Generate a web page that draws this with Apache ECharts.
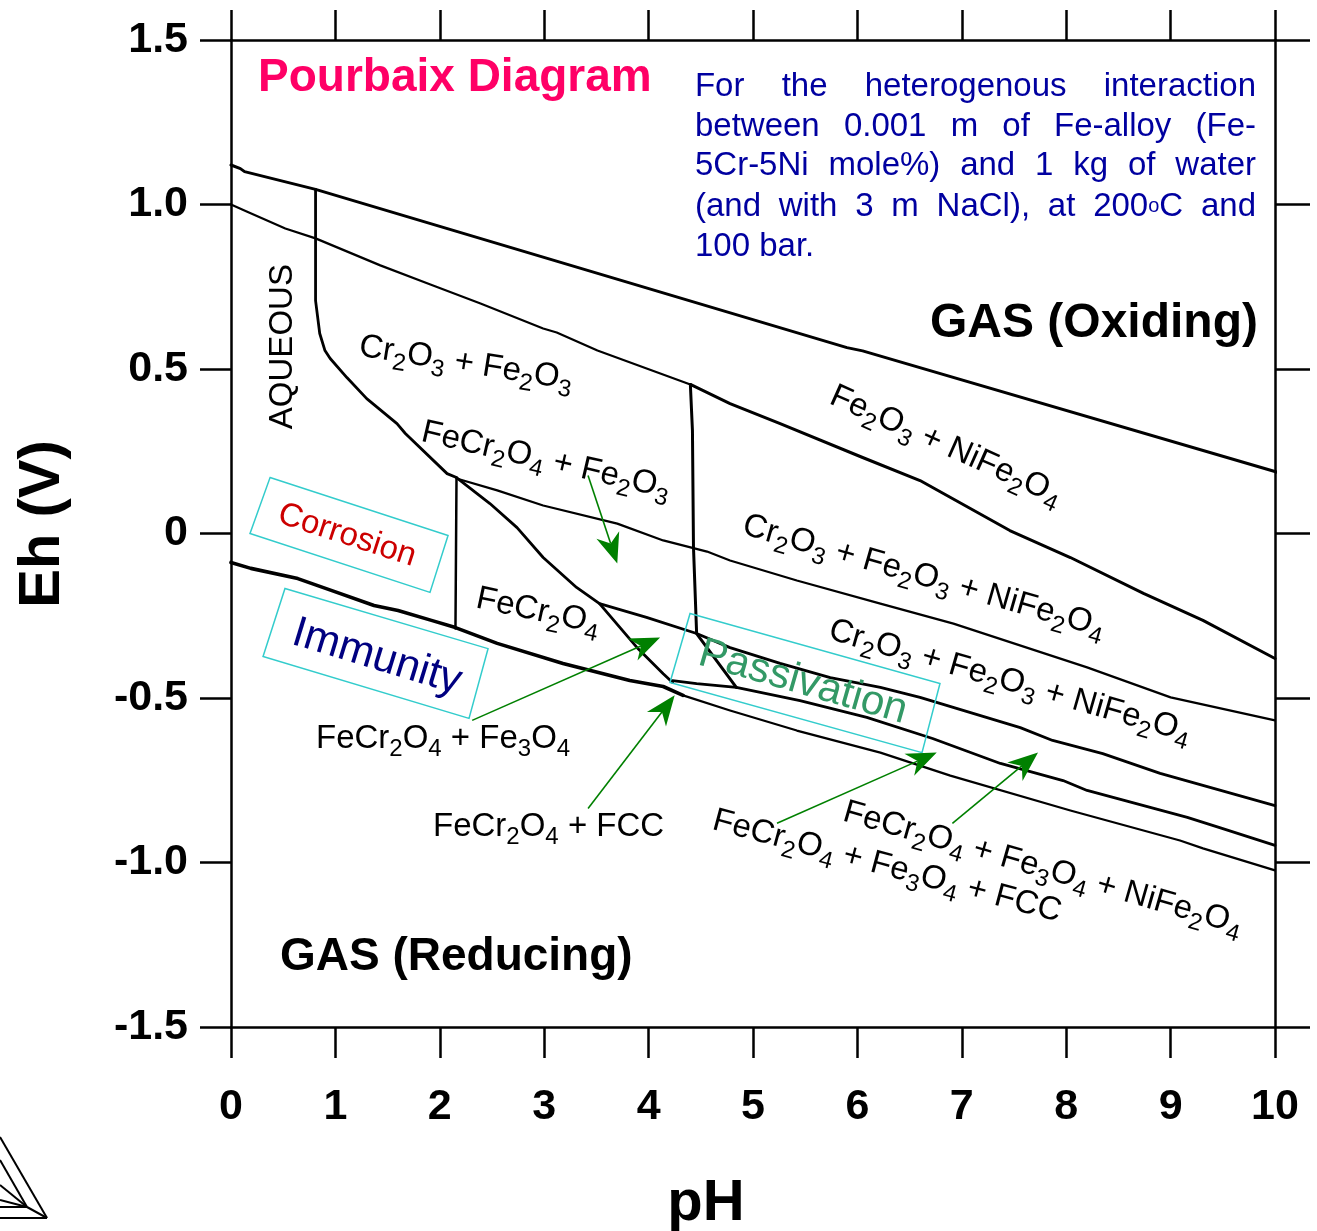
<!DOCTYPE html>
<html>
<head>
<meta charset="utf-8">
<script src="https://cdn.jsdelivr.net/npm/echarts@6/dist/echarts.min.js"></script>
<style>
  html, body { margin: 0; padding: 0; background: #fff; }
  #chart { width: 1317px; height: 1231px; }
</style>
</head>
<body>
<div id="chart"></div>
<script>
const FONT = '"Liberation Sans", Arial, Helvetica, sans-serif';

// ---- phase boundaries, points given as [pH, Eh (V)] ----
const upperWaterLimit = [[0, 1.12], [0.09, 1.109], [0.13, 1.10], [0.81, 1.046], [5.90, 0.565], [6.05, 0.555], [10.1, 0.179]];
const hematiteLimitAcid = [[0, 1.0], [0.15, 0.979], [0.52, 0.927], [0.81, 0.897], [1.43, 0.815], [1.91, 0.757], [2.39, 0.699], [2.99, 0.623], [3.12, 0.611], [3.51, 0.556], [4.40, 0.453]];
const hematiteLimitBasic = [[4.40, 0.453], [4.78, 0.395], [5.26, 0.334], [6.05, 0.231], [6.60, 0.161], [7.46, 0.009], [8.04, -0.073], [8.74, -0.182], [9.31, -0.264], [10.0, -0.380]];
const aqueousLimit = [[0.81, 1.046], [0.81, 0.708], [0.85, 0.608], [0.90, 0.556], [0.95, 0.532], [1.11, 0.474], [1.30, 0.410], [1.59, 0.334], [1.67, 0.304], [2.07, 0.182], [2.16, 0.170], [2.48, 0.091], [2.74, 0.018], [2.99, -0.073], [3.31, -0.164], [3.53, -0.213], [3.89, -0.347], [4.14, -0.426], [4.23, -0.453]];
const chromiteStep = [[2.16, 0.170], [2.15, -0.289]];
const nickelStep = [[4.40, 0.453], [4.42, 0.313], [4.43, -0.043], [4.46, -0.304], [4.84, -0.468]];
const hematiteChromiteLimit = [[2.16, 0.167], [2.55, 0.131], [2.99, 0.085], [3.70, 0.030], [4.14, -0.021], [4.56, -0.055], [4.78, -0.082], [5.42, -0.143], [6.22, -0.213], [6.92, -0.274], [8.20, -0.407], [9.00, -0.498], [10.0, -0.568]];
const magnetiteLimit = [[3.53, -0.213], [3.98, -0.255], [4.46, -0.304], [4.78, -0.347], [5.26, -0.395], [5.74, -0.438], [6.22, -0.468], [6.60, -0.498], [7.56, -0.590], [7.87, -0.629], [8.35, -0.669], [8.90, -0.729], [10.0, -0.827]];
const fccLimit = [[4.23, -0.447], [4.46, -0.456], [4.84, -0.468], [5.45, -0.508], [6.09, -0.559], [6.72, -0.623], [7.37, -0.699], [7.97, -0.751], [8.20, -0.781], [9.16, -0.863], [9.47, -0.894], [10.0, -0.948]];
const lowerWaterLimitAcid = [[0, -0.088], [0.19, -0.106], [0.64, -0.137], [0.96, -0.173], [1.37, -0.219], [1.60, -0.234], [1.92, -0.264], [2.15, -0.286], [2.55, -0.334], [3.18, -0.395], [3.82, -0.447], [4.14, -0.465], [4.33, -0.492]];
const lowerWaterLimitBasic = [[4.33, -0.492], [4.78, -0.538], [5.42, -0.599], [6.22, -0.666], [6.89, -0.736], [8.04, -0.842], [9.09, -0.933], [9.31, -0.957], [10.0, -1.024]];

// ---- axis scales ----
const pHRange = [0, 10];
const pHStep = 1;
const EhRange = [-1.5, 1.5];
const EhStep = 0.5;

// ---- annotations (positions in pH / Eh units, angles in degrees) ----
const titleText = 'Pourbaix Diagram';
const noteLines = [
  'For the heterogenous interaction',
  'between 0.001 m of Fe-alloy (Fe-',
  '5Cr-5Ni mole%) and 1 kg of water',
  '(and with 3 m NaCl), at 200°C and',
  '100 bar.'
];
const speciesLabels = [
  { text: 'Cr2O3 + Fe2O3', at: [2.251, 0.517], angle: 9 },
  { text: 'FeCr2O4 + Fe2O3', at: [3.017, 0.222], angle: 13 },
  { text: 'Fe2O3 + NiFe2O4', at: [6.849, 0.267], angle: 24 },
  { text: 'Cr2O3 + Fe2O3 + NiFe2O4', at: [6.638, -0.131], angle: 16 },
  { text: 'Cr2O3 + Fe2O3 + NiFe2O4', at: [7.462, -0.450], angle: 16 },
  { text: 'FeCr2O4', at: [2.941, -0.237], angle: 12 },
  { text: 'FeCr2O4 + Fe3O4', at: [0.814, -0.625], angle: 0, align: 'left' },
  { text: 'FeCr2O4 + FCC', at: [1.935, -0.892], angle: 0, align: 'left' },
  { text: 'FeCr2O4 + Fe3O4 + FCC', at: [6.284, -1.012], angle: 15 },
  { text: 'FeCr2O4 + Fe3O4 + NiFe2O4', at: [7.778, -1.018], angle: 16 }
];
const zoneLabels = [
  { text: 'Corrosion', at: [1.111, -0.006], angle: 18, size: 33, color: '#CC0000',
    box: [[0.374, 0.170], [2.079, -0.006], [1.906, -0.179], [0.182, 0.0]] },
  { text: 'Immunity', at: [1.398, -0.377], angle: 17, size: 43, color: '#000080',
    box: [[0.517, -0.167], [2.462, -0.350], [2.280, -0.562], [0.307, -0.374]] },
  { text: 'Passivation', at: [5.479, -0.453], angle: 16, size: 42, color: '#339966',
    box: [[4.397, -0.243], [6.791, -0.456], [6.619, -0.666], [4.205, -0.453]] }
];
const pointerArrows = [
  [[3.42, 0.176], [3.70, -0.091]],
  [[2.31, -0.568], [4.11, -0.316]],
  [[3.42, -0.836], [4.25, -0.492]],
  [[5.23, -0.881], [6.76, -0.666]],
  [[6.91, -0.881], [7.73, -0.666]]
];

const chart = echarts.init(document.getElementById('chart'), null, { renderer: 'canvas' });

const frame = { color: '#000', width: 2.5 };

function boundary(data, width, extra) {
  return Object.assign({
    type: 'line',
    data: data,
    xAxisIndex: 0,
    yAxisIndex: 0,
    symbol: 'none',
    showSymbol: false,
    silent: true,
    animation: false,
    z: 3,
    lineStyle: { color: '#000', width: width, cap: 'round', join: 'round' }
  }, extra || {});
}

function valueAxis(position, range, step, tickLen, labels) {
  const axis = {
    type: 'value',
    position: position,
    min: range[0],
    max: range[1],
    interval: step,
    axisLine: { show: true, onZero: false, lineStyle: frame },
    axisTick: { show: true, inside: false, length: tickLen, lineStyle: frame },
    splitLine: { show: false },
    axisLabel: { show: false }
  };
  if (labels) axis.axisLabel = labels;
  return axis;
}

chart.setOption({
  animation: false,
  backgroundColor: '#fff',
  grid: { left: 231, right: 42, top: 40, bottom: 204, containLabel: false, outerBoundsMode: 'none' },
  xAxis: [
    valueAxis('bottom', pHRange, pHStep, 31, {
      show: true, margin: 59, fontSize: 43, fontWeight: 'bold', fontFamily: FONT, color: '#000'
    }),
    valueAxis('top', pHRange, pHStep, 30)
  ],
  yAxis: [
    valueAxis('left', EhRange, EhStep, 31, {
      show: true, margin: 43, fontSize: 43, fontWeight: 'bold', fontFamily: FONT, color: '#000',
      padding: [9, 0, 0, 0],
      formatter: function (v) { return v === 0 ? '0' : v.toFixed(1); }
    }),
    valueAxis('right', EhRange, EhStep, 35)
  ],
  series: [
    boundary(upperWaterLimit, 3, { clip: false }),
    boundary(hematiteLimitAcid, 2.2),
    boundary(hematiteLimitBasic, 3),
    boundary(aqueousLimit, 2.8),
    boundary(chromiteStep, 2.5),
    boundary(nickelStep, 3),
    boundary(hematiteChromiteLimit, 2.2),
    boundary(magnetiteLimit, 2.8),
    boundary(fccLimit, 2.8),
    boundary(lowerWaterLimitAcid, 3.6),
    boundary(lowerWaterLimitBasic, 2.2)
  ]
});

// ---- overlay text and drawings ----
const toPx = (p) => chart.convertToPixel({ xAxisIndex: 0, yAxisIndex: 0 }, p);
const rad = (deg) => deg * Math.PI / 180;

const measureCtx = document.createElement('canvas').getContext('2d');
function textWidth(str, size, weight) {
  measureCtx.font = (weight || 'normal') + ' ' + size + 'px ' + FONT;
  return measureCtx.measureText(str).width;
}

// formula text: digits right after a letter are set as subscripts
function formulaRich(str) {
  let out = '', buf = '', prevLetter = false;
  for (const ch of str) {
    if (/[0-9]/.test(ch) && prevLetter) {
      if (buf) { out += '{n|' + buf + '}'; buf = ''; }
      out += '{s|' + ch + '}';
    } else {
      buf += ch;
      prevLetter = /[A-Za-z]/.test(ch);
    }
  }
  if (buf) out += '{n|' + buf + '}';
  return out;
}

const formulaStyles = {
  n: { fontSize: 33, fontFamily: FONT, fill: '#000', lineHeight: 45 },
  s: { fontSize: 24, fontFamily: FONT, fill: '#000', lineHeight: 24, verticalAlign: 'bottom' }
};

const elements = [];

// title
(function () {
  const p = toPx([0.259, 1.383]);
  elements.push({
    type: 'text', x: p[0], y: p[1], z: 60,
    style: { text: titleText, fontSize: 46, fontWeight: 'bold', fontFamily: FONT, fill: '#FF0066', align: 'left', verticalAlign: 'middle' }
  });
})();

// justified note block
(function () {
  const left = toPx([4.444, 0])[0];
  const right = toPx([9.818, 0])[0];
  const rows = [1.356, 1.237, 1.116, 0.994, 0.872];
  const size = 33, small = 20, color = '#0000A0';
  noteLines.forEach(function (line, i) {
    const y = toPx([0, rows[i]])[1];
    const words = line.split(' ');
    const widths = words.map(function (w) {
      return w.split('°').reduce(function (acc, part, k) {
        return acc + textWidth(part, size) + (k > 0 ? textWidth('o', small) : 0);
      }, 0);
    });
    const total = widths.reduce(function (a, b) { return a + b; }, 0);
    const last = i === noteLines.length - 1;
    const gap = last ? textWidth(' ', size) : (right - left - total) / (words.length - 1);
    let x = left;
    words.forEach(function (w, k) {
      const rich = w.split('°').map(function (part) { return part ? '{d|' + part + '}' : ''; }).join('{o|o}');
      elements.push({
        type: 'text', x: x, y: y, z: 60,
        style: {
          text: rich, align: 'left', verticalAlign: 'middle',
          rich: {
            d: { fontSize: size, fontFamily: FONT, fill: color },
            o: { fontSize: small, fontFamily: FONT, fill: color }
          }
        }
      });
      x += widths[k] + gap;
    });
  });
})();

// gas region captions
(function () {
  const a = toPx([9.837, 0.638]);
  elements.push({
    type: 'text', x: a[0], y: a[1], z: 60,
    style: { text: 'GAS (Oxiding)', fontSize: 48, fontWeight: 'bold', fontFamily: FONT, fill: '#000', align: 'right', verticalAlign: 'middle' }
  });
  const b = toPx([0.469, -1.289]);
  elements.push({
    type: 'text', x: b[0], y: b[1], z: 60,
    style: { text: 'GAS (Reducing)', fontSize: 46, fontWeight: 'bold', fontFamily: FONT, fill: '#000', align: 'left', verticalAlign: 'middle' }
  });
  const c = toPx([0.498, 0.568]);
  elements.push({
    type: 'text', x: c[0], y: c[1], z: 60, rotation: rad(90),
    style: { text: 'AQUEOUS', fontSize: 33, fontFamily: FONT, fill: '#000', align: 'center', verticalAlign: 'middle' }
  });
})();

// phase assemblage labels
speciesLabels.forEach(function (lab) {
  const p = toPx(lab.at);
  elements.push({
    type: 'text', x: p[0], y: p[1], z: 60, rotation: -rad(lab.angle),
    style: { text: formulaRich(lab.text), rich: formulaStyles, align: lab.align || 'center', verticalAlign: 'middle' }
  });
});

// corrosion / immunity / passivation tags
zoneLabels.forEach(function (zone) {
  elements.push({
    type: 'polygon', z: 55,
    shape: { points: zone.box.map(toPx) },
    style: { fill: 'none', stroke: '#33CCCC', lineWidth: 1.5 }
  });
  const p = toPx(zone.at);
  elements.push({
    type: 'text', x: p[0], y: p[1], z: 60, rotation: -rad(zone.angle),
    style: { text: zone.text, fontSize: zone.size, fontFamily: FONT, fill: zone.color, align: 'center', verticalAlign: 'middle' }
  });
});

// green pointers
pointerArrows.forEach(function (pair) {
  const a = toPx(pair[0]), b = toPx(pair[1]);
  const dx = b[0] - a[0], dy = b[1] - a[1];
  const len = Math.hypot(dx, dy), ux = dx / len, uy = dy / len;
  const headLen = 30, half = 12, notch = 9;
  const base = [b[0] - ux * headLen, b[1] - uy * headLen];
  const nx = -uy, ny = ux;
  const inner = [b[0] - ux * (headLen - notch), b[1] - uy * (headLen - notch)];
  elements.push({
    type: 'line', z: 58,
    shape: { x1: a[0], y1: a[1], x2: inner[0], y2: inner[1] },
    style: { stroke: '#008000', lineWidth: 1.6 }
  });
  elements.push({
    type: 'polygon', z: 58,
    shape: { points: [b, [base[0] + nx * half, base[1] + ny * half], inner, [base[0] - nx * half, base[1] - ny * half]] },
    style: { fill: '#008000', stroke: 'none' }
  });
});

// axis titles
elements.push({
  type: 'text', x: 706, y: 1204, z: 60,
  style: { text: 'pH', fontSize: 58, fontWeight: 'bold', fontFamily: FONT, fill: '#000', align: 'center', verticalAlign: 'middle' }
});
elements.push({
  type: 'text', x: 43, y: 524, z: 60, rotation: rad(90),
  style: { text: 'Eh (V)', fontSize: 58, fontWeight: 'bold', fontFamily: FONT, fill: '#000', align: 'center', verticalAlign: 'middle' }
});

// corner logo
[
  [[0, 1137], [47, 1218]],
  [[0, 1218], [47, 1218]],
  [[0, 1160], [27, 1207]],
  [[0, 1185], [27, 1207]],
  [[0, 1200], [27, 1207]],
  [[0, 1207], [27, 1207]],
  [[27, 1207], [47, 1218]]
].forEach(function (seg) {
  elements.push({
    type: 'line', z: 60,
    shape: { x1: seg[0][0], y1: seg[0][1], x2: seg[1][0], y2: seg[1][1] },
    style: { stroke: '#000', lineWidth: 2 }
  });
});

chart.setOption({ graphic: { elements: elements } });
</script>
</body>
</html>
